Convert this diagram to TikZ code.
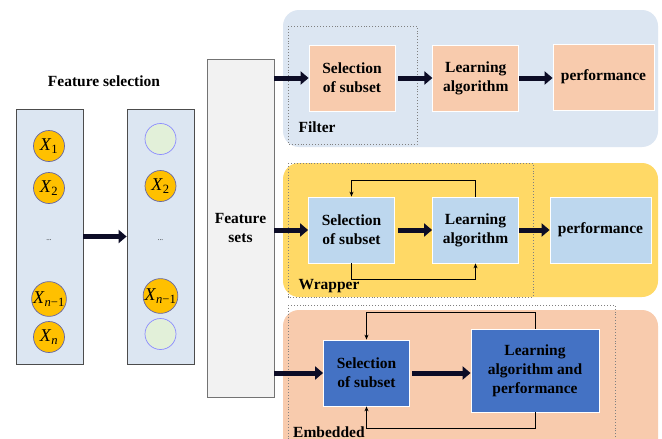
\documentclass[tikz,border=0pt]{standalone}
\usepackage{fontspec}
\setmainfont{Liberation Serif}
\usetikzlibrary{arrows.meta, positioning}
\definecolor{panelblue}{HTML}{DCE6F2}
\definecolor{gold}{HTML}{FFD966}
\definecolor{peach}{HTML}{F8CBAD}
\definecolor{lightbox}{HTML}{BDD7EE}
\definecolor{darkbox}{HTML}{4472C4}
\definecolor{featorange}{HTML}{FFC000}
\definecolor{featempty}{HTML}{E2F0D9}
\definecolor{arrowcol}{HTML}{0C0C26}
\tikzset{
  txt/.style={font=\bfseries\fontsize{15.5}{19}\selectfont, align=center},
  column/.style={draw=black!70, line width=0.8pt, fill=panelblue, minimum width=67pt, minimum height=255pt},
  feat/.style={circle, draw=blue!40!black!60, line width=0.7pt, fill=featorange, minimum size=31pt, inner sep=0pt, font=\fontsize{18}{18}\selectfont},
  nofeat/.style={circle, draw=blue!45!white, line width=0.7pt, fill=featempty, minimum size=31pt, inner sep=0pt},
  box/.style={txt, draw=white, line width=0.8pt, minimum width=86pt, minimum height=66pt},
  bigarrow/.style={arrowcol, line width=5pt, -{Triangle[length=8pt,width=13pt]}},
  fb/.style={black, line width=1pt, -{Stealth[length=5pt,width=4pt]}},
  frame/.style={gray, dotted, line width=0.9pt},
}
\newcommand{\xs}[1]{\textit{X}\textsubscript{#1}}
\begin{document}
\begin{tikzpicture}[x=1pt, y=-1pt]
  \clip (0,0) rectangle (662,439);
  \fill[white] (0,0) rectangle (662,439);

  % feature selection on the left
  \node[txt] (title) at (104,81) {Feature selection};
  \node[column] (left) at (49.5,236.5) {};
  \node[column] (right) at (160.5,236.5) {};
  \node[feat] (x1) at (49,146) {\xs{1}};
  \node[feat] (x2) at (49,188) {\xs{2}};
  \node[font=\scriptsize] (ldots) at (49,240) {...};
  \node[feat] (xm) at (49,299) {\xs{\textit{n}−1}};
  \node[feat] (xn) at (49,337) {\xs{\textit{n}}};
  \node[nofeat] (y1) at (160.5,139) {};
  \node[feat] (y2) at (160.5,186) {\xs{2}};
  \node[font=\scriptsize] (rdots) at (160.5,240) {...};
  \node[feat] (ym) at (160.5,296) {\xs{\textit{n}−1}};
  \node[nofeat] (yn) at (160.5,334) {};
  \draw[bigarrow] (left) -- (right);

  % feature sets
  \node[txt, draw=black!55, line width=0.8pt, fill=black!5, minimum width=67pt, minimum height=338pt] (fs) at (240.5,228) {Feature\\sets};

  % panels
  \fill[panelblue, rounded corners=16pt] (283,10) rectangle (658,147);
  \fill[gold, rounded corners=16pt] (283,163) rectangle (658,297);
  \fill[peach, rounded corners=16pt] (283,310) rectangle (658,470);
  \draw[frame] (288,26) rectangle (417,144);
  \draw[frame] (288,163) rectangle (533,297);
  \draw[frame] (288,305) rectangle (615,470);

  % filter
  \node[box, fill=peach] (fsel) at (352,78) {Selection\\of subset};
  \node[box, fill=peach, right=37pt of fsel] (flearn) {Learning\\algorithm};
  \node[box, fill=peach, minimum width=101pt] (fperf) at (603.5,77) {performance};
  \node[txt, anchor=west] (filter) at (295,127) {Filter};
  \draw[bigarrow] (fs.east |- fsel.west) -- (fsel.west);
  \draw[bigarrow] ([xshift=3pt]fsel.east) -- (flearn.west);
  \draw[bigarrow] (flearn.east) -- (fperf.west |- flearn.east);

  % wrapper
  \node[box, fill=lightbox] (wsel) at (351.5,230) {Selection\\of subset};
  \node[box, fill=lightbox] (wlearn) at (475.5,230) {Learning\\algorithm};
  \node[box, fill=lightbox, minimum width=101pt] (wperf) at (600.5,230) {performance};
  \node[txt, anchor=west] (wrapper) at (295,286) {Wrapper};
  \draw[bigarrow] (fs.east |- wsel.west) -- (wsel.west);
  \draw[bigarrow] ([xshift=3pt]wsel.east) -- (wlearn.west);
  \draw[bigarrow] (wlearn.east) -- (wperf.west);
  \draw[fb] (wlearn.north) -- ++(0,-16) -| (wsel.north);
  \draw[fb] (wsel.south) -- ++(0,16) -| (wlearn.south);

  % embedded
  \node[box, fill=darkbox] (esel) at (366.5,373) {Selection\\of subset};
  \node[box, fill=darkbox, minimum width=128pt, minimum height=83pt] (elearn) at (535,370.5) {Learning\\algorithm and\\performance};
  \node[txt, anchor=base west, inner sep=0pt] (embedded) at (293,437) {Embedded};
  \draw[bigarrow] (fs.east |- esel.west) -- (esel.west);
  \draw[bigarrow] ([xshift=2pt]esel.east) -- (elearn.west |- esel.east);
  \draw[fb] (elearn.north) -- ++(0,-16) -| (esel.north);
  \draw[fb] (elearn.south) -- ++(0,16) -| (esel.south);
\end{tikzpicture}
\end{document}
